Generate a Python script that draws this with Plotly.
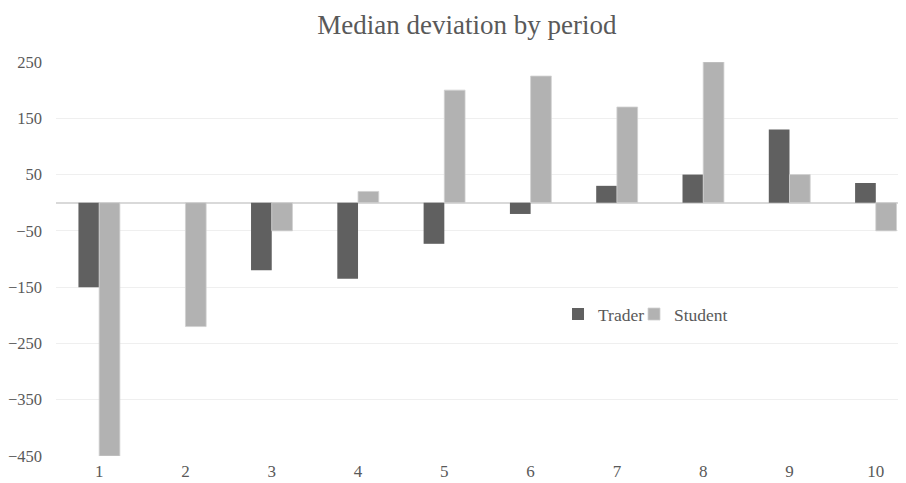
import plotly.graph_objects as go

periods = [1, 2, 3, 4, 5, 6, 7, 8, 9, 10]
trader = [-150, 0, -120, -135, -73, -20, 30, 50, 130, 35]
student = [-450, -220, -50, 20, 200, 225, 170, 250, 50, -50]
ytick_vals = [250, 150, 50, -50, -150, -250, -350, -450]

font_family = "'Liberation Serif', 'Times New Roman', 'DejaVu Serif', serif"
text_color = "#595959"

fig = go.Figure()
fig.add_trace(go.Bar(x=periods, y=trader, name="Trader", legend="legend", showlegend=True,
                     marker=dict(color="#606060", line=dict(color="#606060", width=0))))
fig.add_trace(go.Bar(x=periods, y=student, name="Student", legend="legend2", showlegend=True,
                     marker=dict(color="#b2b2b2", line=dict(color="#d0d0d0", width=0.8))))

legend_common = dict(orientation="h", xanchor="left", y=0.36, yanchor="middle",
                     font=dict(size=17.5, color=text_color, family=font_family),
                     itemwidth=30, bgcolor="rgba(0,0,0,0)")

fig.update_layout(
    width=898, height=475,
    margin=dict(l=48, r=0, t=54, b=27, autoexpand=False),
    showlegend=True,
    paper_bgcolor="white", plot_bgcolor="white",
    barmode="group", bargap=0.52, bargroupgap=0,
    font=dict(family=font_family, color=text_color, size=17),
    title=dict(text="Median deviation by period", x=0.511, xanchor="center",
               xref="container", y=0.966, yanchor="middle", yref="container",
               font=dict(size=27, color=text_color, family=font_family)),
    legend=dict(x=0.5906, **legend_common),
    legend2=dict(x=0.68, **legend_common),
    xaxis=dict(range=[0.5, 10.35], tickmode="array", tickvals=periods,
               ticktext=[str(p) for p in periods], showgrid=False, zeroline=False,
               showline=False, ticks="", ticklabelstandoff=3, automargin=False,
               tickfont=dict(size=17, color=text_color, family=font_family)),
    yaxis=dict(range=[-450, 250], tickmode="array", tickvals=ytick_vals,
               showgrid=True, gridcolor="#efefef", gridwidth=1,
               zeroline=True, zerolinecolor="#d9d9d9", zerolinewidth=1.5,
               showline=False, ticks="", ticklabelstandoff=13, automargin=False,
               tickfont=dict(size=16.5, color=text_color, family=font_family)),
)

fig.write_html("out.html")
